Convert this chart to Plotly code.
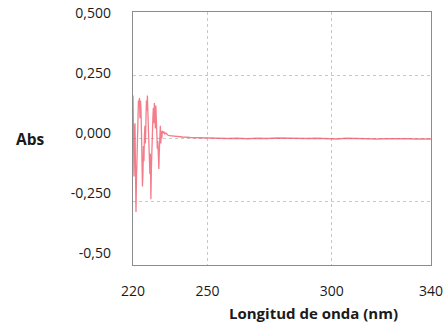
import plotly.graph_objects as go

# Absorbance spectrum: dense sampling in the noisy region 220-234 nm,
# coarser sampling in the flat tail out to 340 nm.
wavelength_noisy = [220.0, 220.2, 220.4, 220.6, 220.8, 221.0, 221.2, 221.4, 221.6, 221.8,
                    222.0, 222.2, 222.4, 222.6, 222.8, 223.0, 223.2, 223.4, 223.6, 223.8,
                    224.0, 224.2, 224.4, 224.6, 224.8, 225.0, 225.2, 225.4, 225.6, 225.8,
                    226.0, 226.2, 226.4, 226.6, 226.8, 227.0, 227.2, 227.4, 227.6, 227.8,
                    228.0, 228.2, 228.4, 228.6, 228.8, 229.0, 229.2, 229.4, 229.6, 229.8,
                    230.0, 230.2, 230.4, 230.6, 230.8, 231.0, 231.2, 231.4, 231.6, 231.8,
                    232.0, 232.4, 232.8, 233.2, 233.6, 234.0, 234.6]
abs_noisy = [0.17, -0.02, -0.15, 0.04, 0.06, -0.12, -0.29, -0.16, -0.05, 0.04,
             0.11, 0.15, 0.13, 0.16, 0.08, 0.15, 0.12, 0.03, -0.07, -0.19,
             -0.14, -0.03, -0.09, 0.01, 0.05, -0.02, 0.09, 0.15, 0.11, 0.17,
             0.10, 0.02, 0.05, -0.08, -0.14, -0.06, -0.24, -0.12, -0.02, 0.04,
             0.08, 0.12, 0.06, 0.14, 0.09, 0.04, 0.13, 0.06, 0.02, -0.04,
             -0.01, -0.07, -0.12, -0.05, 0.01, 0.05, -0.02, 0.03, 0.00, 0.03,
             0.02, 0.028, 0.018, 0.022, 0.016, 0.014, 0.011]

wavelength_tail = [236, 238, 240, 243, 246, 250, 254, 258, 262, 266, 270, 274, 278, 282,
                   286, 290, 294, 298, 302, 306, 310, 314, 318, 322, 326, 330, 334, 338, 340]
abs_tail = [0.009, 0.007, 0.006, 0.004, 0.003, 0.001, 0.002, 0.000, 0.001, -0.001, 0.001,
            0.000, 0.002, 0.001, -0.001, 0.000, 0.001, -0.001, -0.002, 0.001, -0.001,
            0.000, -0.002, -0.001, 0.000, -0.001, -0.002, -0.002, -0.002]

x_ticks = [220, 250, 300, 340]
x_ticktext = ["220", "250", "300", "340"]
y_ticks = [0.5, 0.25, 0.0, -0.25, -0.5]
y_ticktext = ["0,500", "0,250", "0,000", "-0,250", "-0,50"]

wavelength = wavelength_noisy + wavelength_tail
absorbance = abs_noisy + abs_tail

FONT = "Open Sans"
TEXT = "#1a1a1a"

fig = go.Figure()
fig.add_trace(go.Scatter(
    x=wavelength, y=absorbance, mode="lines",
    line=dict(color="rgba(240,70,90,0.7)", width=1.3),
    showlegend=False, hoverinfo="skip",
))
# Invisible companion trace that carries the printed value scale
fig.add_trace(go.Scatter(x=[300], y=[0], xaxis="x", yaxis="y2", mode="markers",
                         marker=dict(opacity=0), showlegend=False, hoverinfo="skip"))

fig.update_layout(
    width=448, height=328,
    margin=dict(l=133, r=17, t=12, b=63, autoexpand=False),
    paper_bgcolor="white", plot_bgcolor="white",
    font=dict(family=FONT, size=14, color=TEXT),
    xaxis=dict(
        range=[220, 340], tickmode="array", tickvals=x_ticks, ticktext=x_ticktext,
        showgrid=True, gridcolor="#c8c8c8", griddash="dot", gridwidth=1,
        showline=True, linecolor="#8c8c8c", linewidth=1, mirror=True,
        ticks="outside", ticklen=13, tickcolor="rgba(0,0,0,0)",
        zeroline=False, automargin=False,
        tickfont=dict(family=FONT, size=14, color=TEXT),
    ),
    yaxis=dict(
        range=[-0.5, 0.5], tickvals=[0.25, 0.0, -0.25],
        showticklabels=False, automargin=False,
        showgrid=True, gridcolor="#c8c8c8", griddash="dot", gridwidth=1,
        showline=True, linecolor="#8c8c8c", linewidth=1, mirror=True,
        ticks="", zeroline=False,
    ),
    yaxis2=dict(
        overlaying="y", anchor="x", side="left", range=[-0.549, 0.503],
        tickmode="array", tickvals=y_ticks, ticktext=y_ticktext, automargin=False,
        showgrid=False, showline=False, zeroline=False, ticks="",
        ticklabelstandoff=21,
        tickfont=dict(family=FONT, size=14, color=TEXT),
    ),
    annotations=[
        dict(text="<b>Abs</b>", xref="paper", yref="paper", x=-0.343, y=0.5,
             xanchor="center", yanchor="middle", showarrow=False,
             font=dict(family=FONT, size=15.5, color=TEXT)),
        dict(text="<b>Longitud de onda (nm)</b>", xref="paper", yref="paper",
             x=0.605, y=-0.19, xanchor="center", yanchor="middle", showarrow=False,
             font=dict(family=FONT, size=15, color=TEXT)),
    ],
)

fig.write_html("out.html")
